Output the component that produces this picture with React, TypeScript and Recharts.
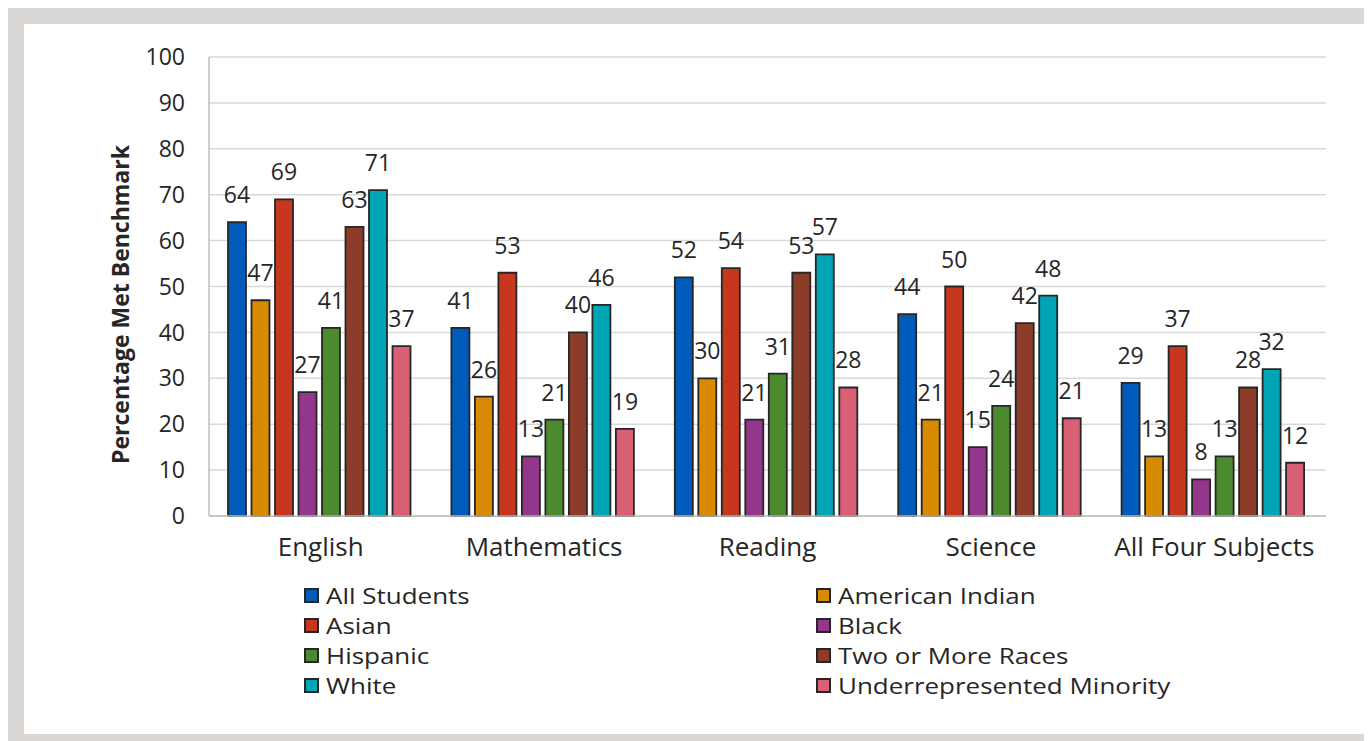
import React from 'react';
import { BarChart, Bar, XAxis, YAxis, CartesianGrid, Legend, LabelList, Label } from 'recharts';

const categories = ['English', 'Mathematics', 'Reading', 'Science', 'All Four Subjects'];
const allStudents = [64, 41, 52, 44, 29];
const americanIndian = [47, 26, 30, 21, 13];
const asian = [69, 53, 54, 50, 37];
const black = [27, 13, 21, 15, 8];
const hispanic = [41, 21, 31, 24, 13];
const twoOrMore = [63, 40, 53, 42, 28];
const white = [71, 46, 57, 48, 32];
const underrepresented = [37, 19, 28, 21.3, 11.6];
const yTicks = [0, 10, 20, 30, 40, 50, 60, 70, 80, 90, 100];

const series = [
  { key: 'allStudents', name: 'All Students', values: allStudents, color: '#005BBB' },
  { key: 'americanIndian', name: 'American Indian', values: americanIndian, color: '#D88A00' },
  { key: 'asian', name: 'Asian', values: asian, color: '#C7371E' },
  { key: 'black', name: 'Black', values: black, color: '#93368C' },
  { key: 'hispanic', name: 'Hispanic', values: hispanic, color: '#4B8A2E' },
  { key: 'twoOrMore', name: 'Two or More Races', values: twoOrMore, color: '#8C3C28' },
  { key: 'white', name: 'White', values: white, color: '#00A5B5' },
  { key: 'underrepresented', name: 'Underrepresented Minority', values: underrepresented, color: '#D95F74' },
];

const data = categories.map((c, i) => {
  const row: any = { category: c };
  series.forEach((s) => { row[s.key] = s.values[i]; });
  return row;
});

const FONT = '"Open Sans", sans-serif';
const TEXT = '#262626';

const seriesOrder = series.map((s) => s.name);

const LegendContent = (props: any) => {
  const payload = [...(props.payload || [])].sort(
    (a: any, b: any) => seriesOrder.indexOf(a.value) - seriesOrder.indexOf(b.value)
  );
  return (
    <div style={{ display: 'grid', gridTemplateColumns: '512px 420px', fontFamily: FONT }}>
      {payload.map((p: any) => (
        <div key={p.value} style={{ display: 'flex', alignItems: 'center', height: 30 }}>
          <span style={{ display: 'inline-block', flex: 'none', width: 15, height: 15, boxSizing: 'border-box', background: p.color, border: '2px solid #262626', marginRight: 7 }} />
          <span
            style={{
              display: 'inline-block',
              fontSize: 22,
              lineHeight: '30px',
              color: TEXT,
              whiteSpace: 'nowrap',
              transform: 'scaleX(1.18)',
              transformOrigin: 'left center',
            }}
          >
            {p.value}
          </span>
        </div>
      ))}
    </div>
  );
};

export default function App() {
  return (
    <div style={{ width: 1364, height: 733, boxSizing: 'border-box', borderStyle: 'solid', borderColor: '#dbd7d4', borderWidth: '16px 5px 7px 16px', background: '#fff' }}>
      <style>{'html,body{overflow:hidden}'}</style>
      <BarChart
        width={1343}
        height={710}
        data={data}
        margin={{ top: 33, right: 41, left: 0, bottom: 68 }}
        barCategoryGap={19}
        barGap={5.5}
        style={{ fontFamily: FONT }}
      >
        <CartesianGrid vertical={false} stroke="#d9d9d9" strokeWidth={1.5} />
        <XAxis
          dataKey="category"
          axisLine={{ stroke: '#bfbfbf', strokeWidth: 1.5 }}
          tickLine={false}
          tickSize={0}
          tickMargin={22}
          tick={{ fill: TEXT, fontSize: 26, fontFamily: FONT }}
          interval={0}
        />
        <YAxis
          width={185}
          domain={[0, 100]}
          ticks={yTicks}
          interval={0}
          axisLine={{ stroke: '#bfbfbf', strokeWidth: 1.5 }}
          tickLine={false}
          tickSize={0}
          tickMargin={24}
          tick={{ fill: TEXT, fontSize: 23, fontFamily: FONT }}
        >
          <Label
            value="Percentage Met Benchmark"
            angle={-90}
            position="center"
            dx={4}
            dy={18}
            style={{ fill: TEXT, fontSize: 23, fontWeight: 700, fontFamily: FONT, textAnchor: 'middle' }}
          />
        </YAxis>
        <Legend
          content={<LegendContent />}
          wrapperStyle={{ position: 'absolute', left: 280, top: 556, width: 950 }}
        />
        {series.map((s) => (
          <Bar key={s.key} dataKey={s.key} name={s.name} fill={s.color} stroke="#262626" strokeWidth={1.8} isAnimationActive={false}>
            <LabelList
              dataKey={s.key}
              position="top"
              offset={19}
              formatter={(v: any) => Math.round(Number(v))}
              style={{ fill: TEXT, fontSize: 23, fontFamily: FONT }}
            />
          </Bar>
        ))}
      </BarChart>
    </div>
  );
}
